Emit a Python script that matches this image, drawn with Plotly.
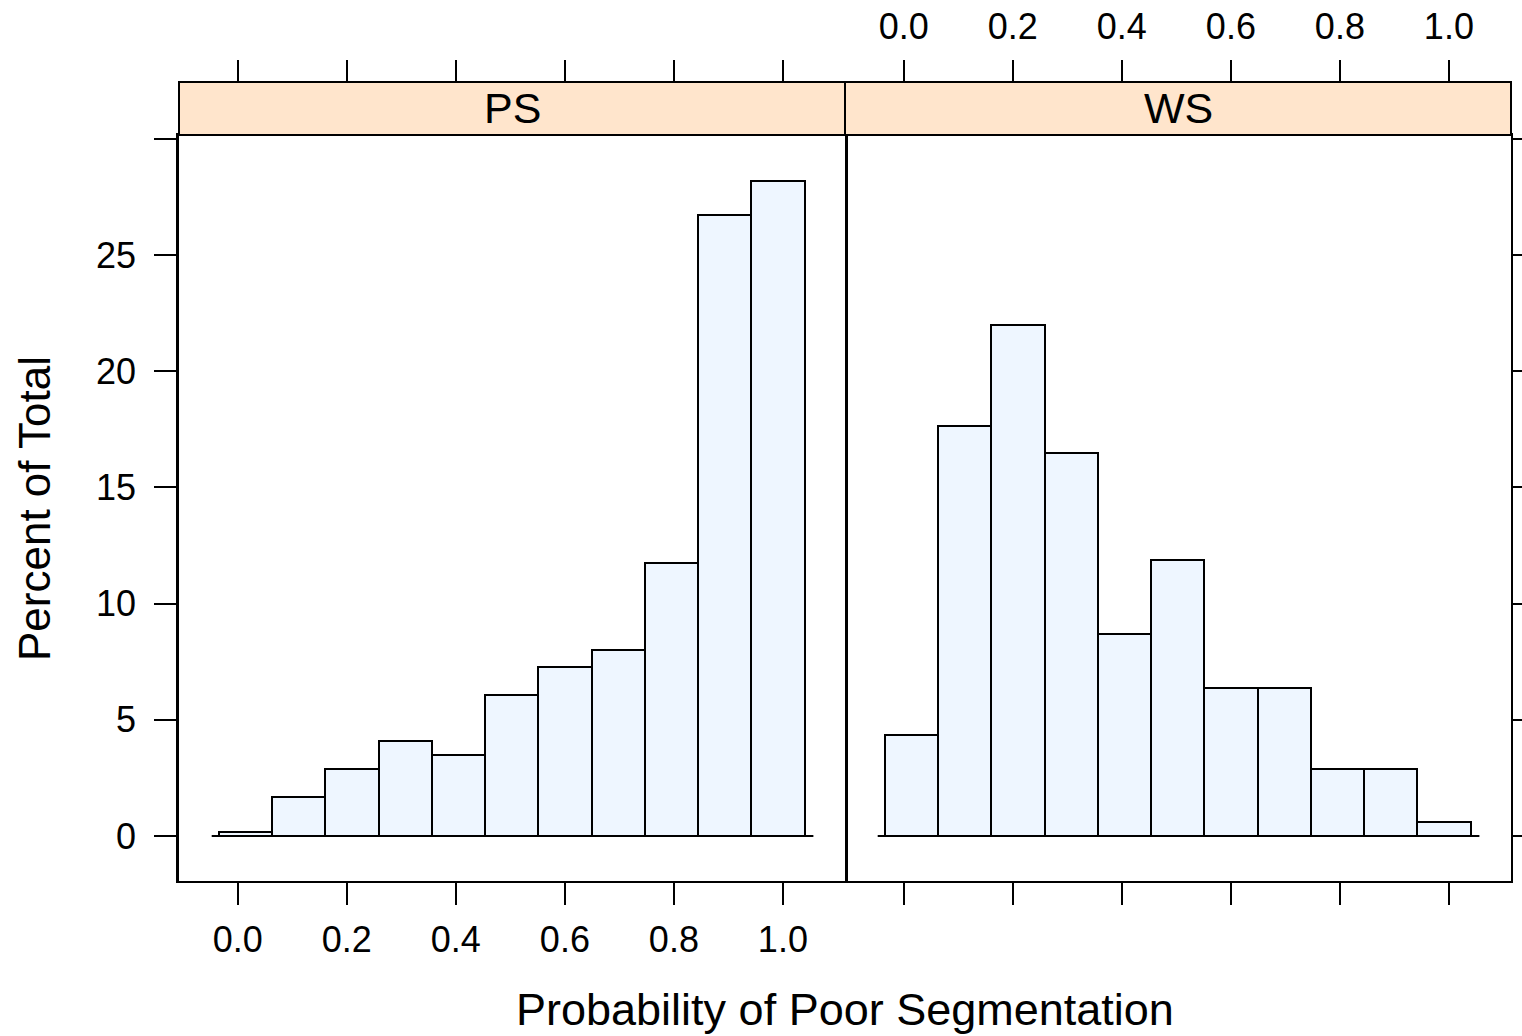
import plotly.graph_objects as go

# ---- data ----
bin_edges = [-0.0349, 0.0628, 0.1605, 0.2583, 0.3560, 0.4537, 0.5515,
             0.6492, 0.7469, 0.8447, 0.9424, 1.0401]
ps_percent = [0.17, 1.68, 2.88, 4.09, 3.49, 6.07, 7.27, 8.0, 11.75, 26.72, 28.18]
ws_percent = [4.35, 17.64, 21.99, 16.48, 8.69, 11.88, 6.37, 6.37, 2.88, 2.88, 0.6]
panel_names = ["PS", "WS"]
x_tickvals = [0.0, 0.2, 0.4, 0.6, 0.8, 1.0]
x_ticktext = ["0.0", "0.2", "0.4", "0.6", "0.8", "1.0"]
y_tickvals = [0, 5, 10, 15, 20, 25, 30]
y_ticktext = ["0", "5", "10", "15", "20", "25", ""]
baseline_x = [-0.048, 1.056]
baseline_y = [0, 0]

x_range = [-0.108, 1.114]
y_range = [-1.94, 30.16]

centers = [(a + b) / 2 for a, b in zip(bin_edges[:-1], bin_edges[1:])]
widths = [b - a for a, b in zip(bin_edges[:-1], bin_edges[1:])]

FONT = "Liberation Sans, Arial, Helvetica, sans-serif"
BAR_FILL = "#EEF6FF"
STRIP_FILL = "#FFE5CC"

fig = go.Figure()

for vals, xa, ya in [(ps_percent, "x", "y"), (ws_percent, "x2", "y2")]:
    fig.add_trace(go.Bar(
        x=centers, y=vals, width=widths, base=0,
        marker=dict(color=BAR_FILL, line=dict(color="black", width=2)),
        xaxis=xa, yaxis=ya, hoverinfo="skip", showlegend=False,
    ))
    fig.add_trace(go.Scatter(
        x=baseline_x, y=baseline_y, mode="lines",
        line=dict(color="black", width=2),
        xaxis=xa, yaxis=ya, hoverinfo="skip", showlegend=False,
    ))

W, H = 1522, 1036
dom_left = [179 / W, 845 / W]
dom_right = [845 / W, 1511 / W]
ydom = [(H - 881) / H, (H - 135) / H]
strip_top = (H - 82) / H

common_x = dict(range=x_range, tickvals=x_tickvals, ticktext=x_ticktext,
                ticks="outside", ticklen=22, tickwidth=2, tickcolor="black",
                showgrid=False, zeroline=False, fixedrange=True, automargin=False,
                tickfont=dict(size=36, color="black", family=FONT))

fig.update_layout(
    width=W, height=H, autosize=False,
    margin=dict(l=0, r=0, t=0, b=0, autoexpand=False),
    paper_bgcolor="white", plot_bgcolor="white",
    font=dict(family=FONT, color="black"),
    bargap=0, showlegend=False,
    xaxis=dict(domain=dom_left, anchor="y", showline=True, mirror=True,
               linecolor="black", linewidth=2, showticklabels=True,
               ticklabelstandoff=4, **common_x),
    xaxis2=dict(domain=dom_right, anchor="y2", showline=True, mirror=True,
                linecolor="black", linewidth=2, showticklabels=False, **common_x),
    xaxis3=dict(overlaying="x", anchor="free", position=strip_top, side="top",
                showline=False, showticklabels=False, **common_x),
    xaxis4=dict(overlaying="x2", anchor="free", position=strip_top, side="top",
                showline=False, showticklabels=True, ticklabelstandoff=7, **common_x),
    yaxis=dict(domain=ydom, anchor="x", range=y_range, tickvals=y_tickvals,
               ticktext=y_ticktext, ticks="outside", ticklen=22, tickwidth=2,
               tickcolor="black", showline=True, mirror=True, linecolor="black",
               linewidth=2.5, showgrid=False, zeroline=False, fixedrange=True,
               ticklabelstandoff=11, automargin=False,
               tickfont=dict(size=36, color="black", family=FONT)),
    yaxis2=dict(domain=ydom, anchor="x2", range=y_range, tickvals=y_tickvals,
                ticktext=y_ticktext, side="right", ticks="outside", ticklen=22,
                tickwidth=2, tickcolor="black", showticklabels=False,
                showline=True, mirror=False, linecolor="black", linewidth=2,
                showgrid=False, zeroline=False, fixedrange=True, automargin=False),
)

# dummy traces so the top axes render
fig.add_trace(go.Scatter(x=[None], y=[None], xaxis="x3", yaxis="y", showlegend=False, hoverinfo="skip"))
fig.add_trace(go.Scatter(x=[None], y=[None], xaxis="x4", yaxis="y2", showlegend=False, hoverinfo="skip"))

# strips
for name, dom in zip(panel_names, [dom_left, dom_right]):
    fig.add_shape(type="rect", xref="paper", yref="paper",
                  x0=dom[0], x1=dom[1], y0=ydom[1], y1=strip_top,
                  fillcolor=STRIP_FILL, line=dict(color="black", width=2), layer="above")
    fig.add_annotation(text=name, xref="paper", yref="paper",
                       x=(dom[0] + dom[1]) / 2, y=(ydom[1] + strip_top) / 2,
                       showarrow=False, xanchor="center", yanchor="middle",
                       font=dict(size=43, color="black", family=FONT))

# axis titles
fig.add_annotation(text="Probability of Poor Segmentation", xref="paper", yref="paper",
                   x=845 / W, y=(H - 1009) / H, showarrow=False,
                   xanchor="center", yanchor="middle",
                   font=dict(size=45, color="black", family=FONT))
fig.add_annotation(text="Percent of Total", xref="paper", yref="paper",
                   x=35 / W, y=(H - 509) / H, showarrow=False, textangle=-90,
                   xanchor="center", yanchor="middle",
                   font=dict(size=44, color="black", family=FONT))

fig.write_html(
    "out.html",
    config={"responsive": False, "displayModeBar": False},
    post_script="document.body.style.margin='0';document.body.style.overflow='hidden';",
)
